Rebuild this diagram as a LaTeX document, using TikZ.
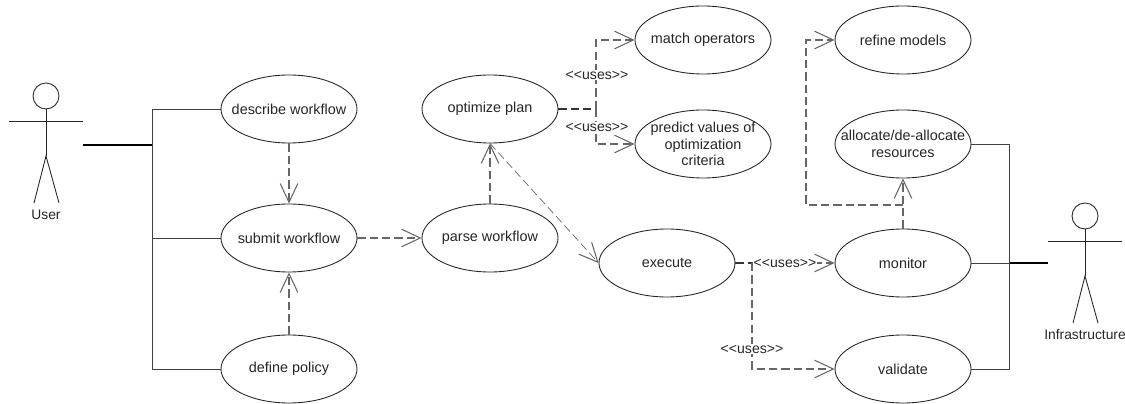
\documentclass[tikz,border=0pt]{standalone}
\usepackage{fontspec}
\setmainfont{Liberation Sans}
\usetikzlibrary{arrows.meta}
\usetikzlibrary{shapes.geometric}
\definecolor{linegray}{gray}{0.25}
\definecolor{dashgray}{gray}{0.4}
\tikzset{
	usecase/.style={draw=black!85,line width=0.75pt,ellipse,minimum width=4.08cm,minimum height=2.04cm,inner sep=0pt},
	casetext/.style={inner sep=0pt,align=center,font=\fontsize{12.3}{14.2}\selectfont,text=black!85},
	assoc/.style={draw=linegray,line width=0.8pt},
	busline/.style={draw=black,line width=1.4pt},
	usesline/.style={draw=dashgray,line width=0.9pt,dash pattern=on 7pt off 3.5pt,-{Straight Barb[length=16pt,width=15pt,line width=0.9pt]}},
	plainuses/.style={draw=dashgray,line width=0.9pt,dash pattern=on 7pt off 3.5pt},
	usestag/.style={fill=white,inner sep=0.5pt,font=\fontsize{12}{14}\selectfont,text=black!85},
	actorline/.style={draw=black!85,line width=0.75pt},
	actortag/.style={inner sep=0pt,font=\fontsize{11.8}{14}\selectfont,text=black!85}
}
\begin{document}
\begin{tikzpicture}[x=0.03cm,y=-0.03cm]
	\useasboundingbox (0,0) rectangle (1125,404);
	% use cases
	\foreach \name/\x/\y/\txt in {describe/289/109/describe workflow,submit/289/238/submit workflow,define/289/369/define policy,optimize/490/109/optimize plan,parse/490/238/parse workflow,match/703/40/match operators,predict/703/144/{predict values of\\optimization\\criteria},execute/667/263/execute,refine/903/40/refine models,allocate/903/144/{allocate/de-allocate\\resources},monitor/903/263/monitor,validate/903/369/validate}{
		\node[usecase,label={[casetext]center:\txt}] (\name) at (\x,\y) {};
	}
	% actors
	\foreach \name/\x/\y/\txt in {user/46/96/User,infra/1085/216/Infrastructure}{
		\node[actorline,draw,circle,minimum size=0.78cm,inner sep=0pt] (\name head) at (\x,\y) {};
		\coordinate (\name larm) at (\x-37,\y+25);
		\coordinate (\name rarm) at (\x+37,\y+25);
		\coordinate (\name hip) at (\x,\y+60);
		\coordinate (\name lfoot) at (\x-12,\y+107);
		\coordinate (\name rfoot) at (\x+13,\y+107);
		\draw[actorline] (\name larm) -- (\name rarm);
		\draw[actorline] (\name head) -- (\name hip);
		\draw[actorline] (\name lfoot) -- (\name hip) -- (\name rfoot);
		\node[actortag] (\name tag) at (\x,\y+119) {\txt};
	}
	% left bus
	\coordinate (userend) at (83,145);
	\coordinate (leftbus) at (152,145);
	\draw[busline] (userend) -- (leftbus);
	\draw[assoc] (describe.west) -| (leftbus);
	\draw[assoc] (define.west) -| (leftbus);
	\draw[assoc] (submit.west) -- (submit.west-|leftbus);
	% right bus
	\coordinate (infraend) at (1048,263);
	\coordinate (rightbus) at (1009,263);
	\draw[busline] (infraend) -- (rightbus);
	\draw[assoc] (monitor.east) -- (rightbus);
	\draw[assoc] (allocate.east) -| (rightbus);
	\draw[assoc] (validate.east) -| (rightbus);
	% uses
	\draw[usesline] (describe) -- (submit);
	\draw[usesline] (define) -- (submit);
	\draw[usesline] (submit) -- (parse);
	\draw[usesline] (parse) -- (optimize);
	\draw[usesline,line width=0.6pt] (optimize.south) -- (execute.west);
	\coordinate (optjoin) at (596,109);
	\draw[plainuses,draw=black!80] (optimize.east) -- (optjoin);
	\draw[usesline] (optjoin) |- (match.west);
	\draw[usesline] (optjoin) |- (predict.west);
	\coordinate (exejoin) at (752,263);
	\draw[plainuses,draw=black!80] (execute.east) -- (exejoin);
	\draw[usesline] (exejoin) -- (monitor.west);
	\draw[usesline] (exejoin) |- (validate.west);
	\coordinate (monjoin) at (903,205);
	\draw[usesline] (monitor.north) -- (allocate.south);
	\draw[usesline] (monjoin) -| (806,40) -- (refine.west);
	% labels
	\node[usestag] (usesmatch) at (597,75) {<{}<uses>{}>};
	\node[usestag] (usespredict) at (597,127) {<{}<uses>{}>};
	\node[usestag] (usesmonitor) at (785,263) {<{}<uses>{}>};
	\node[usestag] (usesvalidate) at (752,349) {<{}<uses>{}>};
\end{tikzpicture}
\end{document}
